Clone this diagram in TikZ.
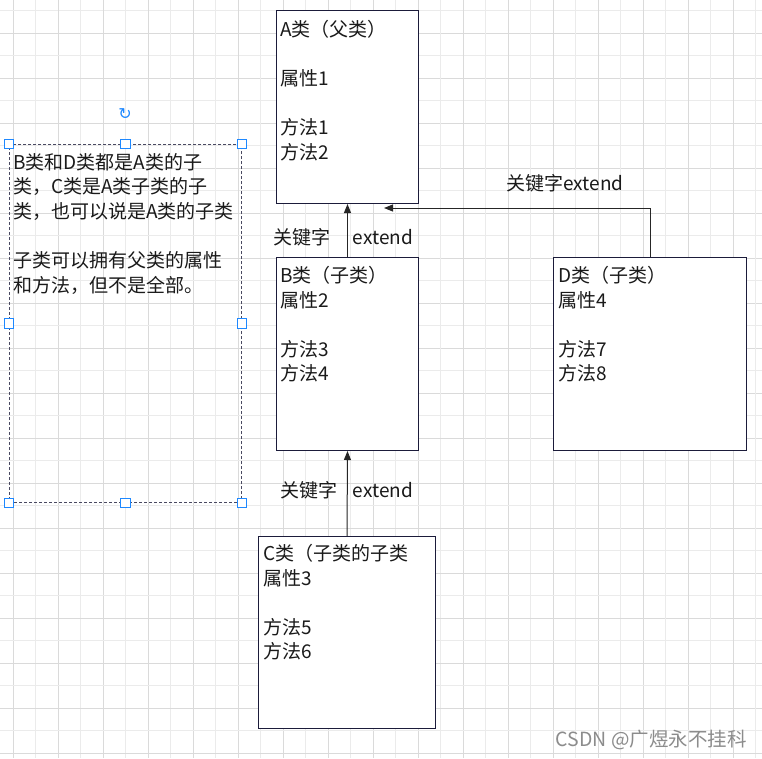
\documentclass[tikz,border=0pt]{standalone}
\usepackage{fontspec}
\newfontfamily\cjk{Noto Sans CJK SC}
\newfontfamily\dejavu{DejaVu Sans}
\usetikzlibrary{arrows.meta,calc}
\definecolor{gridA}{HTML}{DADADA}
\definecolor{gridB}{HTML}{EBEBEB}
\definecolor{boxline}{HTML}{1B1B3A}
\definecolor{txtc}{HTML}{1A1A1A}
\definecolor{handle}{HTML}{1E88FF}
\begin{document}
\begin{tikzpicture}[x=1pt,y=-1pt,
  clsbox/.style={draw=boxline, line width=1pt, fill=white, inner sep=0, anchor=north west},
  body/.style={font=\cjk\fontsize{19}{24.6}\selectfont, text=txtc, inner sep=0, anchor=north west, align=left},
  lbl/.style={font=\cjk\fontsize{19}{22}\selectfont, text=txtc, inner sep=0},
  conn/.style={draw=black!85, line width=1pt, -{Triangle[length=9pt,width=7pt]}},
  hnd/.style={draw=handle, fill=white, line width=1pt, minimum size=9.5pt, inner sep=0},
  notebox/.style={draw=boxline!80, dashed, dash pattern=on 3pt off 2pt, line width=0.9pt, inner sep=0, anchor=north west}
]
\useasboundingbox (0,0) rectangle (762,758);
\fill[white] (0,0) rectangle (762,758);
% grid
\foreach \i in {0,...,16} {
  \draw[gridA, line width=0.9pt] ({13+45*\i},0) -- ({13+45*\i},758);
  \draw[gridB, line width=0.9pt] ({35.5+45*\i},0) -- ({35.5+45*\i},758);
  \draw[gridA, line width=0.9pt] (0,{33.2+45*\i}) -- (762,{33.2+45*\i});
  \draw[gridB, line width=0.9pt] (0,{10.7+45*\i}) -- (762,{10.7+45*\i});
}
% class boxes
\node[clsbox, minimum width=142pt, minimum height=193pt] (A) at (276,10) {};
\node[clsbox, minimum width=142pt, minimum height=193pt] (B) at (276,257) {};
\node[clsbox, minimum width=193pt, minimum height=193pt] (D) at (553,257) {};
\node[clsbox, minimum width=177pt, minimum height=192pt] (C) at (258,536) {};
\node[body] (At) at (280,20) {A类（父类）\\ \mbox{}\\属性1\\ \mbox{}\\方法1\\方法2};
\node[body] (Bt) at (280,266) {B类（子类）\\属性2\\ \mbox{}\\方法3\\方法4};
\node[body] (Dt) at (558,266) {D类（子类）\\属性4\\ \mbox{}\\方法7\\方法8};
\node[body] (Ct) at (263,544) {C类（子类的子类\\属性3\\ \mbox{}\\方法5\\方法6};
% note box
\node[notebox, minimum width=232pt, minimum height=358pt] (note) at (9,144) {};
\node[body] (notet) at (13,153) {B类和D类都是A类的子\\类，C类是A类子类的子\\类，也可以说是A类的子类\\ \mbox{}\\子类可以拥有父类的属性\\和方法，但不是全部。};
\foreach \a/\n in {north west/h1,north/h2,north east/h3,west/h4,east/h5,south west/h6,south/h7,south east/h8}
  \node[hnd] (\n) at (note.\a) {};
\node[text=handle, font=\dejavu\fontsize{16}{16}\selectfont, inner sep=0] (rot) at (125,114) {↻};
% connectors
\coordinate (Aend) at (384,208);
\draw[conn] (B.north) -- (A.south);
\draw[conn] (C.north) -- (B.south);
\draw[conn] (D.north) |- (Aend);
% labels
\node[lbl] (k1) at (302,237) {关键字};
\node[lbl] (e1) at (383,237) {extend};
\node[lbl] (k2) at (309,490) {关键字};
\node[lbl] (e2) at (383,490) {extend};
\node[lbl] (k3) at (565,183) {关键字extend};
% watermark
\node[font=\cjk\fontsize{19.5}{19.5}\selectfont, text=black!45, anchor=east, inner sep=0] (wm) at (747,740) {CSDN @广煜永不挂科};
\end{tikzpicture}
\end{document}
